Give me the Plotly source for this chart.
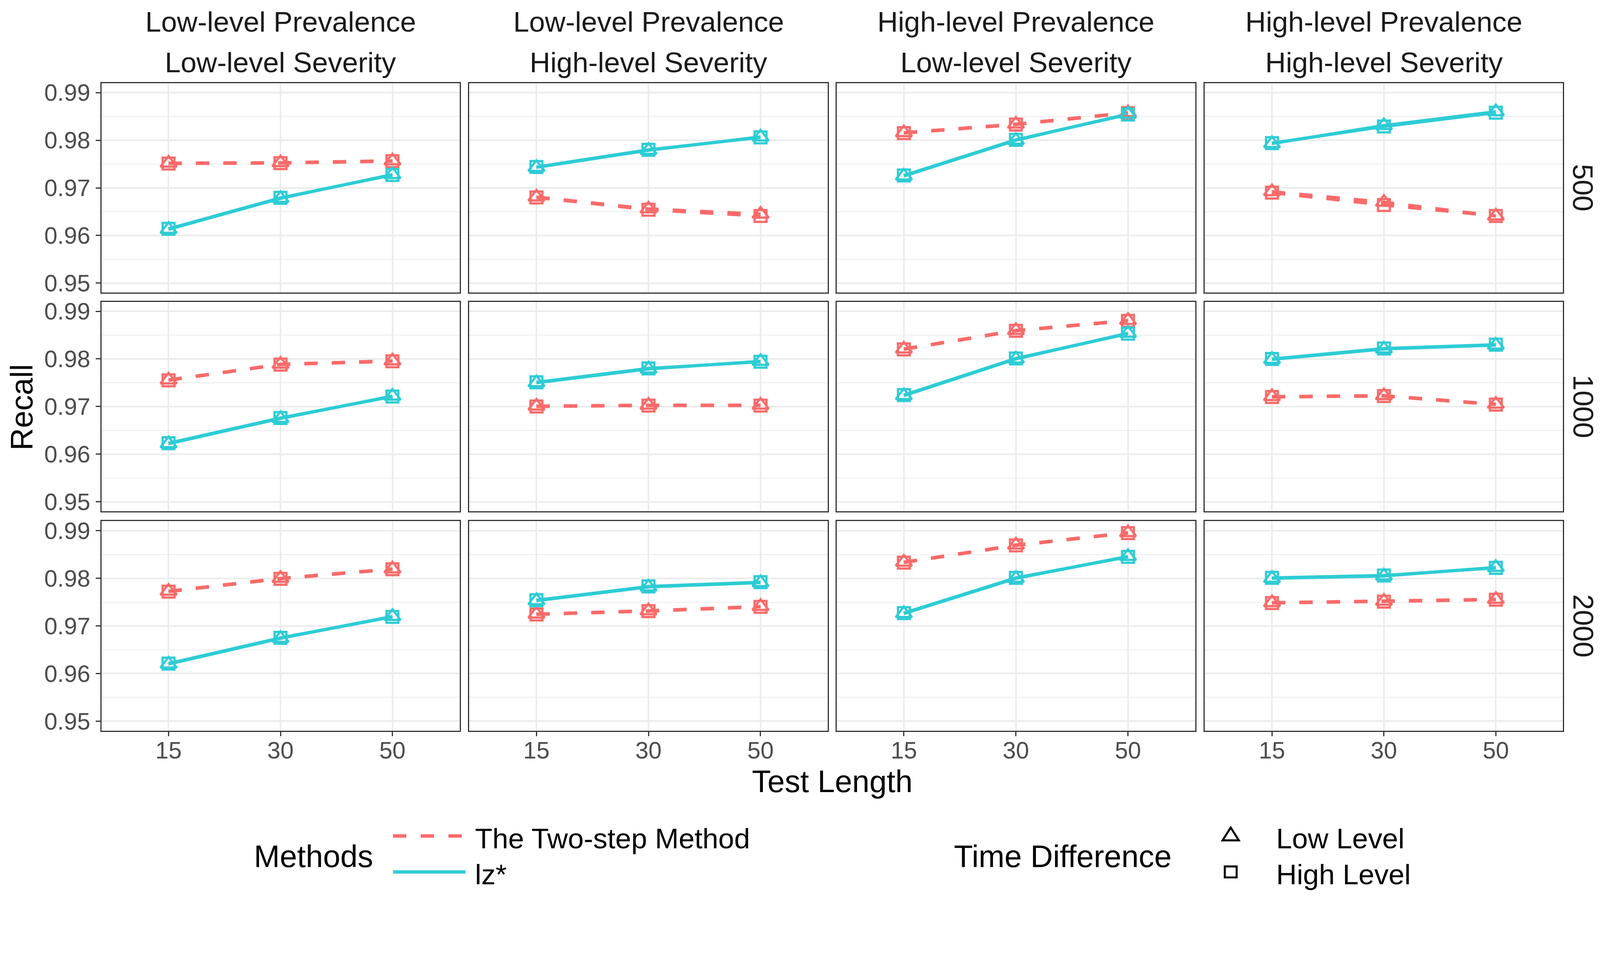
import plotly.graph_objects as go

# target picture size (pixels) and the browser CSS scale guess
W, H = 4324, 2440
S = 4324 / 4096.0   # screenshot pixels per CSS pixel


def cs(v):
    """convert a size measured in picture pixels to CSS pixels"""
    return v / S


# ---------------- data ----------------
test_lengths = ["15", "30", "50"]
sample_sizes = ["500", "1000", "2000"]
prevalence_labels = ["Low-level Prevalence", "Low-level Prevalence",
                     "High-level Prevalence", "High-level Prevalence"]
severity_labels = ["Low-level Severity", "High-level Severity",
                   "Low-level Severity", "High-level Severity"]
method_names = ["The Two-step Method", "lz*"]
time_levels = ["Low Level", "High Level"]
y_ticks = [0.95, 0.96, 0.97, 0.98, 0.99]
y_tick_labels = ["0.95", "0.96", "0.97", "0.98", "0.99"]

# recall[row = sample size][col = condition] -> values at test length 15, 30, 50
two_step_low = [
    [[0.9752, 0.9753, 0.9757], [0.9681, 0.9656, 0.9645], [0.9816, 0.9834, 0.9858], [0.9692, 0.9670, 0.9641]],
    [[0.9756, 0.9789, 0.9796], [0.9701, 0.9703, 0.9703], [0.9821, 0.9860, 0.9881], [0.9721, 0.9723, 0.9705]],
    [[0.9773, 0.9800, 0.9820], [0.9725, 0.9732, 0.9741], [0.9834, 0.9870, 0.9896], [0.9749, 0.9752, 0.9756]],
]
two_step_high = [
    [[0.9751, 0.9752, 0.9756], [0.9680, 0.9654, 0.9641], [0.9815, 0.9833, 0.9857], [0.9690, 0.9664, 0.9641]],
    [[0.9755, 0.9788, 0.9795], [0.9700, 0.9702, 0.9702], [0.9820, 0.9859, 0.9880], [0.9720, 0.9722, 0.9704]],
    [[0.9772, 0.9799, 0.9819], [0.9724, 0.9731, 0.9740], [0.9833, 0.9869, 0.9895], [0.9748, 0.9751, 0.9755]],
]
lz_low = [
    [[0.9613, 0.9678, 0.9728], [0.9743, 0.9779, 0.9807], [0.9725, 0.9800, 0.9855], [0.9793, 0.9831, 0.9860]],
    [[0.9622, 0.9675, 0.9722], [0.9750, 0.9779, 0.9795], [0.9723, 0.9800, 0.9854], [0.9799, 0.9821, 0.9829]],
    [[0.9620, 0.9674, 0.9720], [0.9753, 0.9782, 0.9791], [0.9726, 0.9800, 0.9846], [0.9800, 0.9805, 0.9823]],
]
lz_high = [
    [[0.9614, 0.9679, 0.9727], [0.9744, 0.9780, 0.9806], [0.9726, 0.9801, 0.9854], [0.9794, 0.9829, 0.9858]],
    [[0.9623, 0.9676, 0.9721], [0.9751, 0.9780, 0.9794], [0.9724, 0.9801, 0.9853], [0.9800, 0.9822, 0.9830]],
    [[0.9621, 0.9675, 0.9719], [0.9754, 0.9783, 0.9792], [0.9727, 0.9801, 0.9845], [0.9801, 0.9806, 0.9822]],
]

# ---------------- style ----------------
RED = "#F96B6A"
CYAN = "#2ECCD5"
FONT = "Liberation Sans, Arial, Helvetica, sans-serif"
GRID = "#EBEBEB"
BORDER = "#333333"

col_px = [(274, 1242), (1268, 2237), (2261, 3230), (3256, 4224)]
row_px = [(217, 788), (813, 1384), (1411, 1982)]


def px_x(p):
    return p / W


def px_y(p):
    return 1 - p / H


DASH = f"{cs(36):.1f}px,{cs(38):.1f}px"

series = [
    (two_step_low, RED, DASH, "triangle-up-open", cs(38)),
    (two_step_high, RED, DASH, "square-open", cs(32)),
    (lz_low, CYAN, "solid", "triangle-up-open", cs(38)),
    (lz_high, CYAN, "solid", "square-open", cs(32)),
]

fig = go.Figure()
layout = {}

for r in range(3):
    for c in range(4):
        k = r * 4 + c + 1
        xa = "x" if k == 1 else f"x{k}"
        ya = "y" if k == 1 else f"y{k}"
        # lines first (ggplot geom_line layer), then points on top
        for data, color, dash, sym, size in series:
            fig.add_trace(go.Scatter(
                x=test_lengths, y=data[r][c], mode="lines",
                line=dict(color=color, width=cs(8.5), dash=dash),
                xaxis=xa, yaxis=ya, showlegend=False, hoverinfo="skip"))
        for data, color, dash, sym, size in series:
            fig.add_trace(go.Scatter(
                x=test_lengths, y=data[r][c], mode="markers",
                marker=dict(symbol=sym, size=size, color=color,
                            line=dict(color=color, width=cs(6))),
                xaxis=xa, yaxis=ya, showlegend=False, hoverinfo="skip"))

        x0, x1 = col_px[c]
        y0, y1 = row_px[r]
        xname = "xaxis" if k == 1 else f"xaxis{k}"
        yname = "yaxis" if k == 1 else f"yaxis{k}"
        layout[xname] = dict(
            domain=[px_x(x0), px_x(x1)], anchor=ya, type="category",
            range=[-0.6, 2.6], showgrid=True, gridcolor=GRID, gridwidth=cs(4),
            showline=True, linecolor=BORDER, linewidth=cs(3), mirror=True,
            zeroline=False,
            ticks="outside" if r == 2 else "", ticklen=cs(12), tickwidth=cs(3),
            tickcolor=BORDER, showticklabels=(r == 2),
            tickfont=dict(family=FONT, size=cs(64), color="#4D4D4D"),
            ticklabelstandoff=-16,
        )
        layout[yname] = dict(
            domain=[px_y(y1), px_y(y0)], anchor=xa,
            range=[0.948, 0.992], tickvals=y_ticks, ticktext=y_tick_labels,
            showgrid=True, gridcolor=GRID, gridwidth=cs(4),
            minor=dict(tickvals=[0.955, 0.965, 0.975, 0.985], showgrid=True,
                       gridcolor=GRID, gridwidth=cs(2), ticks=""),
            showline=True, linecolor=BORDER, linewidth=cs(3), mirror=True,
            zeroline=False,
            ticks="outside" if c == 0 else "", ticklen=cs(12), tickwidth=cs(3),
            tickcolor=BORDER, showticklabels=(c == 0),
            tickfont=dict(family=FONT, size=cs(64), color="#4D4D4D"),
            ticklabelstandoff=2,
        )


def note(text, xp, yp, size, color="black", xanchor="center", angle=0):
    return dict(text=text, x=px_x(xp), y=px_y(yp), xref="paper", yref="paper",
                xanchor=xanchor, yanchor="middle", showarrow=False, textangle=angle,
                font=dict(family=FONT, size=cs(size), color=color))


annotations = []
# top strips
for c in range(4):
    cx = (col_px[c][0] + col_px[c][1]) / 2
    annotations.append(note(prevalence_labels[c], cx, 50, 77, "#1A1A1A"))
    annotations.append(note(severity_labels[c], cx, 160, 77, "#1A1A1A"))
# right strips
for r in range(3):
    cy = (row_px[r][0] + row_px[r][1]) / 2
    annotations.append(note(sample_sizes[r], 4279, cy, 77, "#1A1A1A", angle=90))
# axis titles
annotations.append(note("Recall", 58, 1100, 84, angle=-90))
annotations.append(note("Test Length", 2249, 2120, 84))
# legend titles and labels
annotations.append(note("Methods", 684, 2325, 84, xanchor="left"))
annotations.append(note("Time Difference", 2576, 2325, 84, xanchor="left"))
for label, ypix in zip(method_names, [2276, 2373]):
    annotations.append(note(label, 1282, ypix, 77, xanchor="left"))
for label, ypix in zip(time_levels, [2276, 2373]):
    annotations.append(note(label, 3447, ypix, 77, xanchor="left"))

# legend keys
shapes = [
    dict(type="line", xref="paper", yref="paper", x0=px_x(1062), x1=px_x(1258),
         y0=px_y(2269), y1=px_y(2269),
         line=dict(color=RED, width=cs(9), dash=f"{cs(36):.1f}px,{cs(39):.1f}px")),
    dict(type="line", xref="paper", yref="paper", x0=px_x(1062), x1=px_x(1258),
         y0=px_y(2367), y1=px_y(2367), line=dict(color=CYAN, width=cs(9))),
    dict(type="path", xref="paper", yref="paper",
         path=f"M {px_x(3304)},{px_y(2281)} L {px_x(3348)},{px_y(2281)} L {px_x(3326)},{px_y(2246)} Z",
         line=dict(color="black", width=cs(5.5))),
    dict(type="rect", xref="paper", yref="paper", x0=px_x(3310), x1=px_x(3342),
         y0=px_y(2352), y1=px_y(2382), line=dict(color="black", width=cs(5.5))),
]

fig.update_layout(
    autosize=True, margin=dict(l=0, r=0, t=0, b=0, pad=0),
    paper_bgcolor="white", plot_bgcolor="white",
    showlegend=False, annotations=annotations, shapes=shapes,
    font=dict(family=FONT),
    **layout,
)

ASPECT_VW = f"{100.0 * H / W:.4f}vw"
fit_script = (
    "document.documentElement.style.margin='0';"
    "document.body.style.margin='0';"
    "document.documentElement.style.overflow='hidden';"
    "document.body.style.overflow='hidden';"
    "var gd=document.getElementById('{plot_id}');"
    "gd.style.width='100vw';gd.style.height='" + ASPECT_VW + "';"
    "Plotly.Plots.resize(gd);"
)

fig.write_html("out.html", default_width="100vw", default_height=ASPECT_VW,
               config={"displayModeBar": False}, post_script=fit_script)
